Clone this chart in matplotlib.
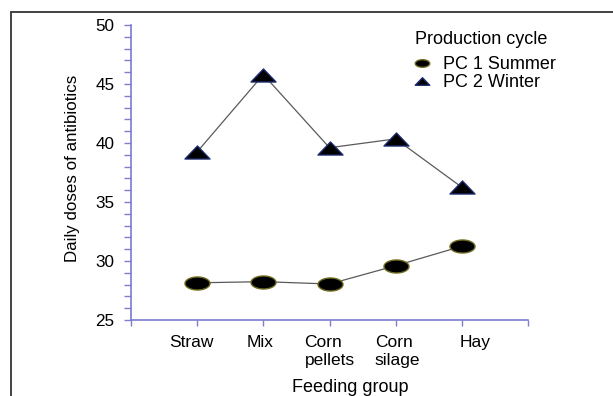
import matplotlib
matplotlib.use("Agg")
import matplotlib.pyplot as plt
import numpy as np
from matplotlib.path import Path
from matplotlib.lines import Line2D
from matplotlib.patches import Rectangle
import matplotlib.transforms as mtransforms

plt.rcParams['font.family'] = ['Liberation Sans', 'DejaVu Sans']

groups = ['Straw', 'Mix', 'Corn\npellets', 'Corn\nsilage', 'Hay']
summer = [28.15, 28.25, 28.05, 29.6, 31.25]   # PC 1 Summer
winter = [39.25, 45.8, 39.6, 40.35, 36.25]    # PC 2 Winter
yticks = [25, 30, 35, 40, 45, 50]

# flattened markers: wide ellipse and wide triangle
t = np.linspace(0, 2 * np.pi, 60)
ellipse = Path(np.column_stack([np.cos(t), 0.52 * np.sin(t)]), closed=True)
tri = Path([(-1, -0.52), (1, -0.52), (0, 0.52), (-1, -0.52)], closed=True)

axcol = '#7c7cd0'

fig = plt.figure(figsize=(6.13, 3.96), dpi=100)
ax = fig.add_axes([131 / 613, 1 - 320 / 396, 397 / 613, 295 / 396])

x = np.arange(1, len(groups) + 1)
ax.plot(x, winter, color='#5a5a5a', lw=0.9, marker=tri, ms=18,
        mfc='black', mec='#1c2a6e', mew=1.0, zorder=3)
ax.plot(x, summer, color='#5a5a5a', lw=0.9, marker=ellipse, ms=18,
        mfc='black', mec='#6e6a1e', mew=1.0, zorder=3)

ax.set_xlim(0, 6)
ax.set_ylim(25, 50)
ax.set_xticks(range(0, 7))
ax.set_xticklabels([''] + groups + [''], fontsize=12.5, multialignment='left')
ax.set_yticks(yticks)
ax.set_yticks(np.arange(25, 51, 1), minor=True)
ax.set_yticklabels([str(v) for v in yticks], fontsize=12.3)
ax.tick_params(axis='y', which='both', direction='out', length=5, width=1,
               color=axcol, pad=7)
ax.tick_params(axis='x', direction='out', length=4, width=1, color=axcol, pad=7)

# nudge a few category labels sideways
shifts = [0, -6, -3, 0, 2, 13, 0]
for lab, dx in zip(ax.get_xticklabels(), shifts):
    lab.set_transform(lab.get_transform() +
                      mtransforms.ScaledTranslation(dx / 100, 0, fig.dpi_scale_trans))

for s in ['top', 'right']:
    ax.spines[s].set_visible(False)
for s in ['left', 'bottom']:
    ax.spines[s].set_color(axcol)
    ax.spines[s].set_linewidth(1.2)

fig.text(72 / 613, 1 - 168.5 / 396, 'Daily doses of antibiotics', rotation=90,
         ha='center', va='center', fontsize=12.2)
fig.text(350 / 613, 1 - 387.5 / 396, 'Feeding group', ha='center', va='center',
         fontsize=13)

# legend: title as plain text, entries below it
fig.text(415 / 613, 1 - 40 / 396, 'Production cycle', ha='left', va='center',
         fontsize=13)
handles = [
    Line2D([], [], ls='none', marker=ellipse, ms=18, mfc='black', mec='#6e6a1e'),
    Line2D([], [], ls='none', marker=tri, ms=18, mfc='black', mec='#1c2a6e'),
]
ax.legend(handles, ['PC 1 Summer', 'PC 2 Winter'],
          loc='upper left', bbox_to_anchor=(412 / 613, 1 - 56 / 396),
          bbox_transform=fig.transFigure, frameon=False, borderpad=0,
          borderaxespad=0, handlelength=1.1, handletextpad=0.62,
          labelspacing=0.06, markerscale=0.58, fontsize=13)

# outer frame, cut by the right and bottom edges
fig.patches.append(Rectangle((10.5 / 613, -0.2), 1.2, 1.2 - 12 / 396,
                             transform=fig.transFigure, fill=False,
                             ec='#333333', lw=1.3))

fig.savefig('out.png', dpi=100)
